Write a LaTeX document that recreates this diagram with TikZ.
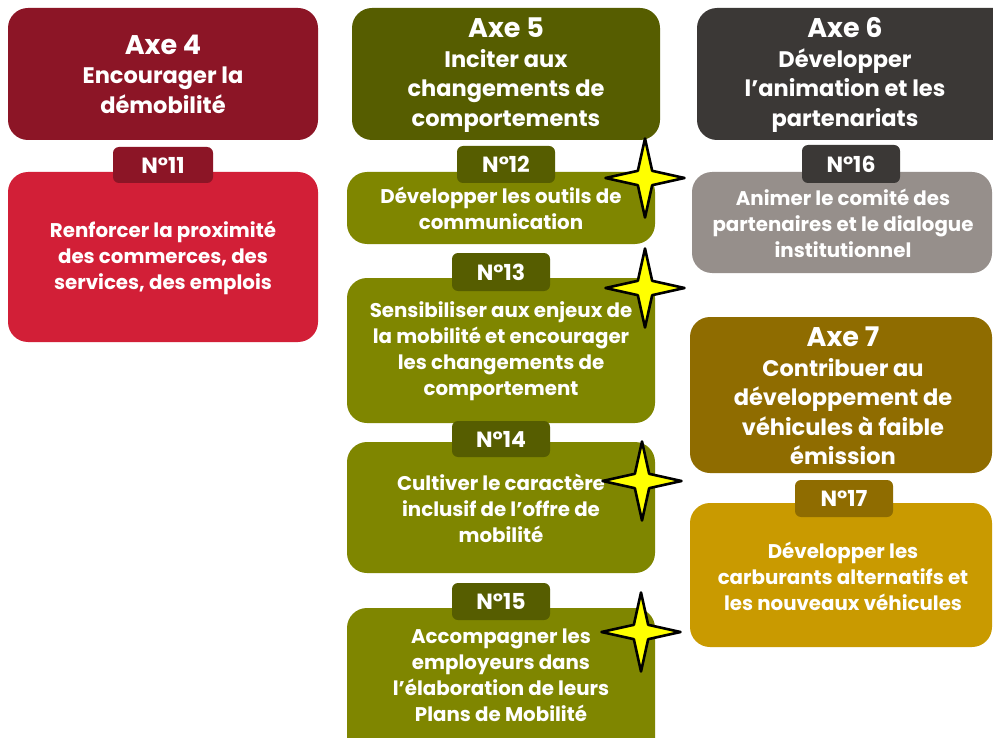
\documentclass[tikz,border=0pt]{standalone}
\usepackage{fontspec}
\setmainfont{Poppins}
\usetikzlibrary{shapes.geometric}
\definecolor{axeA}{HTML}{8C1526}
\definecolor{boxA}{HTML}{D21F37}
\definecolor{axeB}{HTML}{565D00}
\definecolor{boxB}{HTML}{7F8600}
\definecolor{axeC}{HTML}{3B3836}
\definecolor{boxC}{HTML}{968F8B}
\definecolor{axeD}{HTML}{8F6C00}
\definecolor{boxD}{HTML}{C99A00}
\definecolor{staryellow}{HTML}{FFFF00}
\newcommand\axebig{\fontsize{27}{30}\selectfont}
\tikzset{
  panel/.style={rounded corners=20pt},
  badge/.style={rounded corners=6pt},
  titletxt/.style={text=white, align=center, font=\fontsize{22.5}{29.5}\selectfont\bfseries, inner sep=0pt},
  bodytxt/.style={text=white, align=center, font=\fontsize{19.8}{26}\selectfont\bfseries, inner sep=0pt},
  badgetxt/.style={text=white, font=\fontsize{22}{22}\selectfont\bfseries, inner sep=0pt},
  starmark/.style={star, star points=4, star point ratio=3.9, minimum size=79pt, inner sep=0pt,
     fill=staryellow, draw=black, line width=2.6pt, line join=round}
}
\begin{document}
\begin{tikzpicture}[x=1pt,y=-1pt]
\useasboundingbox[fill=white] (0,0) rectangle (993,738);
% ---- Axe 4
\fill[axeA,panel] (8,8) rectangle (318,140);
\fill[boxA,panel] (8,172) rectangle (318,342);
\fill[axeA,badge] (113,147) rectangle (213,183);
\node[titletxt] (t4) at (163,74) {{\axebig Axe 4}\\Encourager la\\démobilité};
\node[badgetxt] (n11) at (163,165) {N°11};
\node[bodytxt] (b11) at (163,258) {Renforcer la proximité\\des commerces, des\\services, des emplois};
% ---- Axe 5
\fill[axeB,panel] (352,8) rectangle (660,140);
\fill[boxB,panel] (347,172) rectangle (655,244);
\fill[boxB,panel] (347,278) rectangle (655,423);
\fill[boxB,panel] (347,442) rectangle (655,573);
\fill[boxB,panel] (347,608) rectangle (655,760);
\fill[axeB,badge] (457,146) rectangle (555,183);
\fill[axeB,badge] (452,253) rectangle (550,291);
\fill[axeB,badge] (452,421) rectangle (550,457);
\fill[axeB,badge] (452,583) rectangle (550,620);
\node[titletxt] (t5) at (506,75) {{\axebig Axe 5}\\Inciter aux\\changements de\\comportements};
\node[badgetxt] (n12) at (506,164) {N°12};
\node[badgetxt] (n13) at (501,272) {N°13};
\node[badgetxt] (n14) at (501,439) {N°14};
\node[badgetxt] (n15) at (501,601) {N°15};
\node[bodytxt] (b12) at (501,208) {Développer les outils de\\communication};
\node[bodytxt] (b13) at (501,351) {Sensibiliser aux enjeux de\\la mobilité et encourager\\les changements de\\comportement};
\node[bodytxt] (b14) at (501,508) {Cultiver le caractère\\inclusif de l’offre de\\mobilité};
\node[bodytxt] (b15) at (501,675) {Accompagner les\\employeurs dans\\l’élaboration de leurs\\Plans de Mobilité};
% ---- Axe 6
\fill[axeC,panel] (697,8) rectangle (1013,140);
\fill[boxC,panel] (692,172) rectangle (992,273);
\fill[axeC,badge] (802,145) rectangle (900,183);
\node[titletxt] (t6) at (845,75) {{\axebig Axe 6}\\Développer\\l’animation et les\\partenariats};
\node[badgetxt] (n16) at (851,164) {N°16};
\node[bodytxt] (b16) at (843,223) {Animer le comité des\\partenaires et le dialogue\\institutionnel};
% ---- Axe 7
\fill[axeD,panel] (690,317) rectangle (992,473);
\fill[boxD,panel] (690,503) rectangle (992,647);
\fill[axeD,badge] (795,480) rectangle (893,517);
\node[titletxt] (t7) at (843,396) {{\axebig Axe 7}\\Contribuer au\\développement de\\véhicules à faible\\émission};
\node[badgetxt] (n17) at (844,498) {N°17};
\node[bodytxt] (b17) at (843,576) {Développer les\\carburants alternatifs et\\les nouveaux véhicules};
% ---- stars
\node[starmark] (s12) at (645,178) {};
\node[starmark] (s13) at (645,288) {};
\node[starmark] (s14) at (642,481) {};
\node[starmark] (s15) at (641,632) {};
\end{tikzpicture}
\end{document}
